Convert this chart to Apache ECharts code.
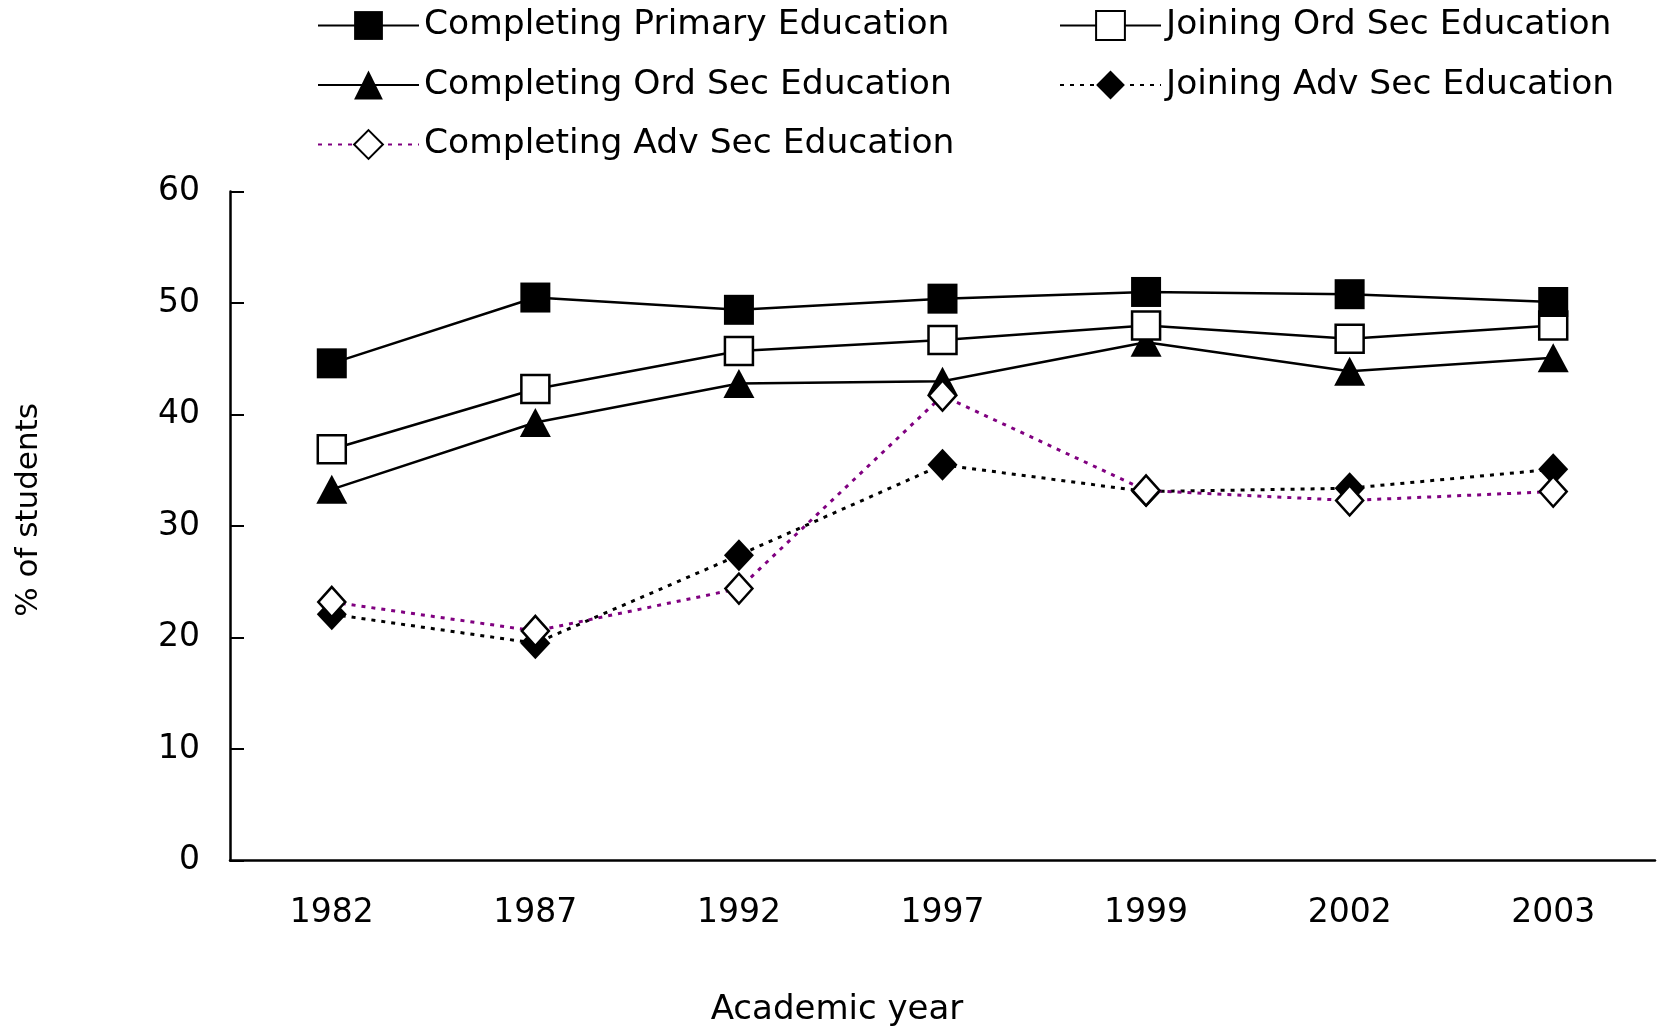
<!DOCTYPE html>
<html>
<head>
<meta charset="utf-8">
<script src="https://cdn.jsdelivr.net/npm/echarts@6/dist/echarts.min.js"></script>
<style>
  html, body { margin: 0; padding: 0; background: #fff; }
  #chart { width: 1660px; height: 1030px; }
</style>
</head>
<body>
<div id="chart"></div>
<script>
// academic years (categories)
const years = ['1982', '1987', '1992', '1997', '1999', '2002', '2003']

// % of students
const completingPrimary = [44.6, 50.5, 49.4, 50.4, 51.0, 50.8, 50.1]
const joiningOrdSec = [36.9, 42.3, 45.7, 46.7, 48.0, 46.8, 48.0]
const completingOrdSec = [33.3, 39.3, 42.8, 43.0, 46.5, 43.9, 45.1]
const joiningAdvSec = [22.1, 19.5, 27.4, 35.5, 33.1, 33.4, 35.1]
const completingAdvSec = [23.2, 20.6, 24.4, 41.7, 33.2, 32.3, 33.1]

const yTicks = { min: 0, max: 60, interval: 10 }

const font = 'DejaVu Sans'
const fontSize = 33

const legendText = {
  fontFamily: font,
  fontSize: 34.5,
  color: '#000',
  lineHeight: 34
}

const solidLine = { color: '#000', width: 2.5, type: 'solid' }

const chart = echarts.init(document.getElementById('chart'))

const options = {
  animation: false,
  backgroundColor: '#fff',
  legend: [{
    orient: 'vertical',
    left: 317,
    top: 8,
    padding: 0,
    itemWidth: 101,
    itemHeight: 36,
    itemGap: 24.5,
    textStyle: legendText,
    data: ['Completing Primary Education', 'Completing Ord Sec Education', 'Completing Adv Sec Education']
  }, {
    orient: 'vertical',
    left: 1059,
    top: 8,
    padding: 0,
    itemWidth: 101,
    itemHeight: 36,
    itemGap: 24.5,
    textStyle: legendText,
    data: ['Joining Ord Sec Education', 'Joining Adv Sec Education']
  }],
  grid: {
    left: 230,
    right: 5,
    top: 191.6,
    bottom: 169.3
  },
  xAxis: [{
    type: 'category',
    data: years,
    boundaryGap: true,
    axisLine: { lineStyle: { color: '#000', width: 2.5 } },
    axisTick: { inside: true, length: 12, lineStyle: { color: '#000', width: 2 } },
    axisLabel: { margin: 36, color: '#000', fontFamily: font, fontSize: fontSize },
    splitLine: { show: false }
  }, {
    type: 'category',
    data: years,
    position: 'bottom',
    boundaryGap: true,
    axisLine: { show: false },
    axisTick: { inside: true, alignWithLabel: true, length: 9, lineStyle: { color: '#000', width: 2 } },
    axisLabel: { show: false },
    splitLine: { show: false }
  }],
  yAxis: {
    type: 'value',
    min: yTicks.min,
    max: yTicks.max,
    interval: yTicks.interval,
    axisLine: { show: true, lineStyle: { color: '#000', width: 2.5 } },
    axisTick: { show: true, inside: true, length: 14, lineStyle: { color: '#000', width: 2 } },
    axisLabel: { margin: 30, color: '#000', fontFamily: font, fontSize: fontSize },
    splitLine: { show: false }
  },
  graphic: [{
    type: 'text',
    x: 28.6,
    y: 510,
    rotation: Math.PI / 2,
    style: {
      text: '% of students',
      x: 0,
      y: 0,
      align: 'center',
      verticalAlign: 'middle',
      fill: '#000',
      font: '31px "' + font + '"'
    }
  }, {
    type: 'text',
    x: 837,
    y: 1010,
    style: {
      text: 'Academic year',
      x: 0,
      y: 0,
      align: 'center',
      verticalAlign: 'middle',
      fill: '#000',
      font: '34px "' + font + '"'
    }
  }],
  series: [{
    name: 'Completing Primary Education',
    type: 'line',
    data: completingPrimary,
    symbol: 'rect',
    symbolSize: 30,
    lineStyle: solidLine,
    itemStyle: { color: '#000', borderColor: '#000', borderWidth: 0 },
    z: 5
  }, {
    name: 'Joining Ord Sec Education',
    type: 'line',
    data: joiningOrdSec,
    symbol: 'rect',
    symbolSize: 28,
    lineStyle: solidLine,
    itemStyle: { color: '#fff', borderColor: '#000', borderWidth: 2.5 },
    z: 4
  }, {
    name: 'Completing Ord Sec Education',
    type: 'line',
    data: completingOrdSec,
    symbol: 'triangle',
    symbolSize: [31, 29],
    lineStyle: solidLine,
    itemStyle: { color: '#000', borderColor: '#000', borderWidth: 0 },
    z: 3
  }, {
    name: 'Joining Adv Sec Education',
    type: 'line',
    data: joiningAdvSec,
    symbol: 'diamond',
    symbolSize: [30, 32],
    lineStyle: { color: '#000', width: 3, type: [4, 6] },
    itemStyle: { color: '#000', borderColor: '#000', borderWidth: 0 },
    z: 2
  }, {
    name: 'Completing Adv Sec Education',
    type: 'line',
    data: completingAdvSec,
    symbol: 'diamond',
    symbolSize: [27, 30],
    lineStyle: { color: '#800080', width: 3, type: [4, 6] },
    itemStyle: { color: '#fff', borderColor: '#000', borderWidth: 2.5 },
    z: 6
  }]
}

chart.setOption(options)

window.addEventListener('resize', function () {
  chart.resize()
})
</script>
</body>
</html>
